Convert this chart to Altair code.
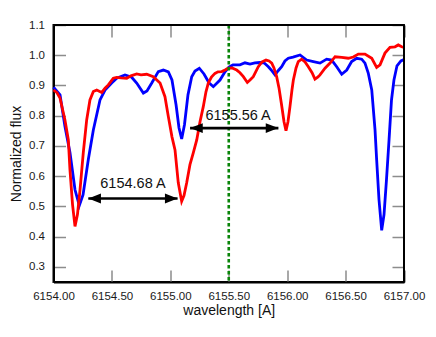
import altair as alt
import pandas as pd

# ---- data ----
blue_wl = [6154.000, 6154.056, 6154.098, 6154.141, 6154.184, 6154.221, 6154.253, 6154.298,
           6154.341, 6154.398, 6154.441, 6154.498, 6154.541, 6154.612, 6154.669, 6154.712,
           6154.769, 6154.800, 6154.841, 6154.897, 6154.940, 6154.983, 6155.014, 6155.049,
           6155.074, 6155.097, 6155.121, 6155.151, 6155.183, 6155.211, 6155.248, 6155.288,
           6155.331, 6155.368, 6155.425, 6155.468, 6155.502, 6155.536, 6155.596, 6155.639,
           6155.682, 6155.724, 6155.767, 6155.802, 6155.839, 6155.870, 6155.896, 6155.921,
           6155.953, 6155.981, 6156.010, 6156.050, 6156.110, 6156.167, 6156.224, 6156.281,
           6156.338, 6156.381, 6156.424, 6156.467, 6156.510, 6156.552, 6156.595, 6156.638,
           6156.666, 6156.694, 6156.724, 6156.752, 6156.766, 6156.786, 6156.809, 6156.829,
           6156.850, 6156.872, 6156.893, 6156.914, 6156.940, 6156.974, 6157.000]
blue_flux = [0.894, 0.869, 0.764, 0.678, 0.555, 0.503, 0.539, 0.655,
             0.753, 0.852, 0.885, 0.908, 0.924, 0.935, 0.927, 0.908,
             0.875, 0.882, 0.908, 0.946, 0.951, 0.945, 0.918, 0.836,
             0.760, 0.723, 0.770, 0.869, 0.929, 0.948, 0.957, 0.938,
             0.909, 0.896, 0.918, 0.945, 0.961, 0.968, 0.968, 0.975,
             0.971, 0.975, 0.976, 0.975, 0.962, 0.948, 0.935, 0.948,
             0.962, 0.981, 0.990, 0.994, 1.001, 0.984, 0.979, 0.974,
             0.987, 0.984, 0.962, 0.937, 0.951, 0.979, 0.990, 0.987,
             0.974, 0.941, 0.885, 0.753, 0.654, 0.522, 0.421, 0.473,
             0.588, 0.720, 0.852, 0.918, 0.965, 0.981, 0.986]

red_wl = [6154.000, 6154.030, 6154.056, 6154.098, 6154.127, 6154.141, 6154.163, 6154.184,
          6154.205, 6154.227, 6154.255, 6154.284, 6154.312, 6154.341, 6154.370, 6154.413,
          6154.441, 6154.469, 6154.512, 6154.541, 6154.578, 6154.627, 6154.663, 6154.712,
          6154.749, 6154.798, 6154.854, 6154.912, 6154.954, 6154.983, 6155.014, 6155.040,
          6155.068, 6155.097, 6155.117, 6155.140, 6155.168, 6155.197, 6155.226, 6155.254,
          6155.282, 6155.305, 6155.325, 6155.352, 6155.382, 6155.408, 6155.440, 6155.468,
          6155.496, 6155.528, 6155.568, 6155.596, 6155.625, 6155.659, 6155.682, 6155.710,
          6155.753, 6155.785, 6155.819, 6155.845, 6155.868, 6155.887, 6155.910, 6155.930,
          6155.952, 6155.973, 6155.990, 6156.007, 6156.024, 6156.041, 6156.053, 6156.076,
          6156.095, 6156.124, 6156.153, 6156.181, 6156.213, 6156.238, 6156.264, 6156.281,
          6156.324, 6156.367, 6156.410, 6156.467, 6156.523, 6156.566, 6156.609, 6156.666,
          6156.724, 6156.766, 6156.795, 6156.837, 6156.880, 6156.923, 6156.951, 6156.980,
          6157.000]
red_flux = [0.885, 0.876, 0.858, 0.786, 0.720, 0.621, 0.506, 0.434,
            0.473, 0.555, 0.678, 0.786, 0.852, 0.880, 0.885, 0.877,
            0.891, 0.902, 0.924, 0.927, 0.925, 0.924, 0.932, 0.938,
            0.935, 0.937, 0.929, 0.908, 0.863, 0.797, 0.730, 0.687,
            0.578, 0.517, 0.536, 0.578, 0.638, 0.678, 0.720, 0.780,
            0.830, 0.879, 0.908, 0.928, 0.940, 0.945, 0.946, 0.951,
            0.957, 0.958, 0.951, 0.942, 0.929, 0.910, 0.918, 0.929,
            0.962, 0.978, 0.984, 0.981, 0.974, 0.958, 0.929, 0.892,
            0.836, 0.780, 0.750, 0.780, 0.830, 0.885, 0.918, 0.958,
            0.979, 0.987, 0.978, 0.962, 0.942, 0.921, 0.928, 0.935,
            0.957, 0.974, 0.995, 0.993, 0.990, 0.994, 1.004, 1.004,
            0.990, 0.960, 0.968, 1.007, 1.026, 1.028, 1.034, 1.028,
            1.026]

marker_wl = [6155.50]

arrow_start = [6154.298, 6155.169]
arrow_end = [6155.062, 6155.925]
arrow_flux = [0.526, 0.759]
arrow_labels = ["6154.68 A", "6155.56 A"]
label_wl = [6154.68, 6155.58]
label_flux = [0.561, 0.786]

x_tick_labels = [6154.0, 6154.5, 6155.0, 6155.5, 6156.0, 6156.5, 6157.0]
y_tick_labels = [0.3, 0.4, 0.5, 0.6, 0.7, 0.8, 0.9, 1.0, 1.1]

X_MIN, X_MAX = 6154.0, 6157.0
Y_MIN, Y_MAX = 0.25, 1.1

W, H = 350.5, 257
FONT = "Liberation Sans"
TICK = "#8c8c8c"
T = 12  # inner tick length (px), drawn as dashed grid ends

xs = alt.Scale(domain=[X_MIN, X_MAX], nice=False, zero=False)
ys = alt.Scale(domain=[Y_MIN, Y_MAX], nice=False, zero=False)

x_axis = alt.Axis(values=x_tick_labels, format=".2f", labelPadding=8,
                  ticks=False, domain=True, domainColor="black", domainWidth=2,
                  grid=True, gridColor=TICK, gridWidth=1.5, gridOpacity=1,
                  gridDash=[T, H - 2 * T],
                  labelOverlap=False, labelFlush=False,
                  labelFontSize=11.5, labelFont=FONT, labelColor="#1a1a1a",
                  title="wavelength [A]", titlePadding=2,
                  titleFont=FONT, titleFontSize=14, titleFontWeight="normal", titleColor="#111")
y_axis = alt.Axis(values=y_tick_labels, format=".1f", labelPadding=9,
                  ticks=False, domain=True, domainColor="black", domainWidth=2,
                  grid=True, gridColor=TICK, gridWidth=1.5, gridOpacity=1,
                  gridDash=[T, W - 2 * T],
                  labelOverlap=False, labelFlush=False,
                  labelFontSize=11.5, labelFont=FONT, labelColor="#1a1a1a",
                  title="Normalized flux", titlePadding=5,
                  titleFont=FONT, titleFontSize=14, titleFontWeight="normal", titleColor="#111")


def X(field):
    return alt.X(field, type="quantitative", scale=xs, axis=x_axis)


def Y(field):
    return alt.Y(field, type="quantitative", scale=ys, axis=y_axis)


blue = pd.DataFrame({"wl": blue_wl, "flux": blue_flux})
red = pd.DataFrame({"wl": red_wl, "flux": red_flux})

blue_line = alt.Chart(blue).mark_line(color="#0000ff", strokeWidth=2.8).encode(
    x=X("wl"), y=Y("flux"))
red_line = alt.Chart(red).mark_line(color="#ff0000", strokeWidth=2.8).encode(
    x=X("wl"), y=Y("flux"))

green = alt.Chart(pd.DataFrame({"wl": marker_wl})).mark_rule(
    color="#0a850a", strokeWidth=2.6, strokeDash=[3.5, 2.5]
).encode(x=X("wl"))

arrows = pd.DataFrame({"x1": arrow_start, "x2": arrow_end, "y": arrow_flux})
shaft = alt.Chart(arrows).mark_rule(color="black", strokeWidth=2.6).encode(
    x=X("x1"), x2="x2:Q", y=Y("y"))
left_head = alt.Chart(arrows).mark_point(
    shape="M 0 0 L 2 -0.78 L 2 0.78 Z", filled=True, color="black", opacity=1, size=160
).encode(x=X("x1"), y=Y("y"))
right_head = alt.Chart(arrows).mark_point(
    shape="M 0 0 L -2 -0.78 L -2 0.78 Z", filled=True, color="black", opacity=1, size=160
).encode(x=X("x2"), y=Y("y"))

labels = pd.DataFrame({"x": label_wl, "y": label_flux, "t": arrow_labels})
label_text = alt.Chart(labels).mark_text(
    font=FONT, fontSize=14.5, color="#111", align="center", baseline="alphabetic"
).encode(x=X("x"), y=Y("y"), text="t:N")

# top and right frame edges
top_edge = alt.Chart(pd.DataFrame({"y": [Y_MAX], "x1": [X_MIN], "x2": [X_MAX]})).mark_rule(
    color="black", strokeWidth=2).encode(y=Y("y"), x=X("x1"), x2="x2:Q")
right_edge = alt.Chart(pd.DataFrame({"x": [X_MAX], "y1": [Y_MIN], "y2": [Y_MAX]})).mark_rule(
    color="black", strokeWidth=2).encode(x=X("x"), y=Y("y1"), y2="y2:Q")

chart = alt.layer(
    blue_line, red_line, green, shaft, left_head, right_head, label_text,
    top_edge, right_edge,
).properties(
    width=W, height=H,
    autosize=alt.AutoSizeParams(type="none"),
    padding={"left": 45.5, "top": 17, "right": 24, "bottom": 47},
).configure(
    background="white",
).configure_view(
    stroke="black", strokeWidth=2,
)

chart.save("out.html", embed_options={"renderer": "svg", "actions": False})
